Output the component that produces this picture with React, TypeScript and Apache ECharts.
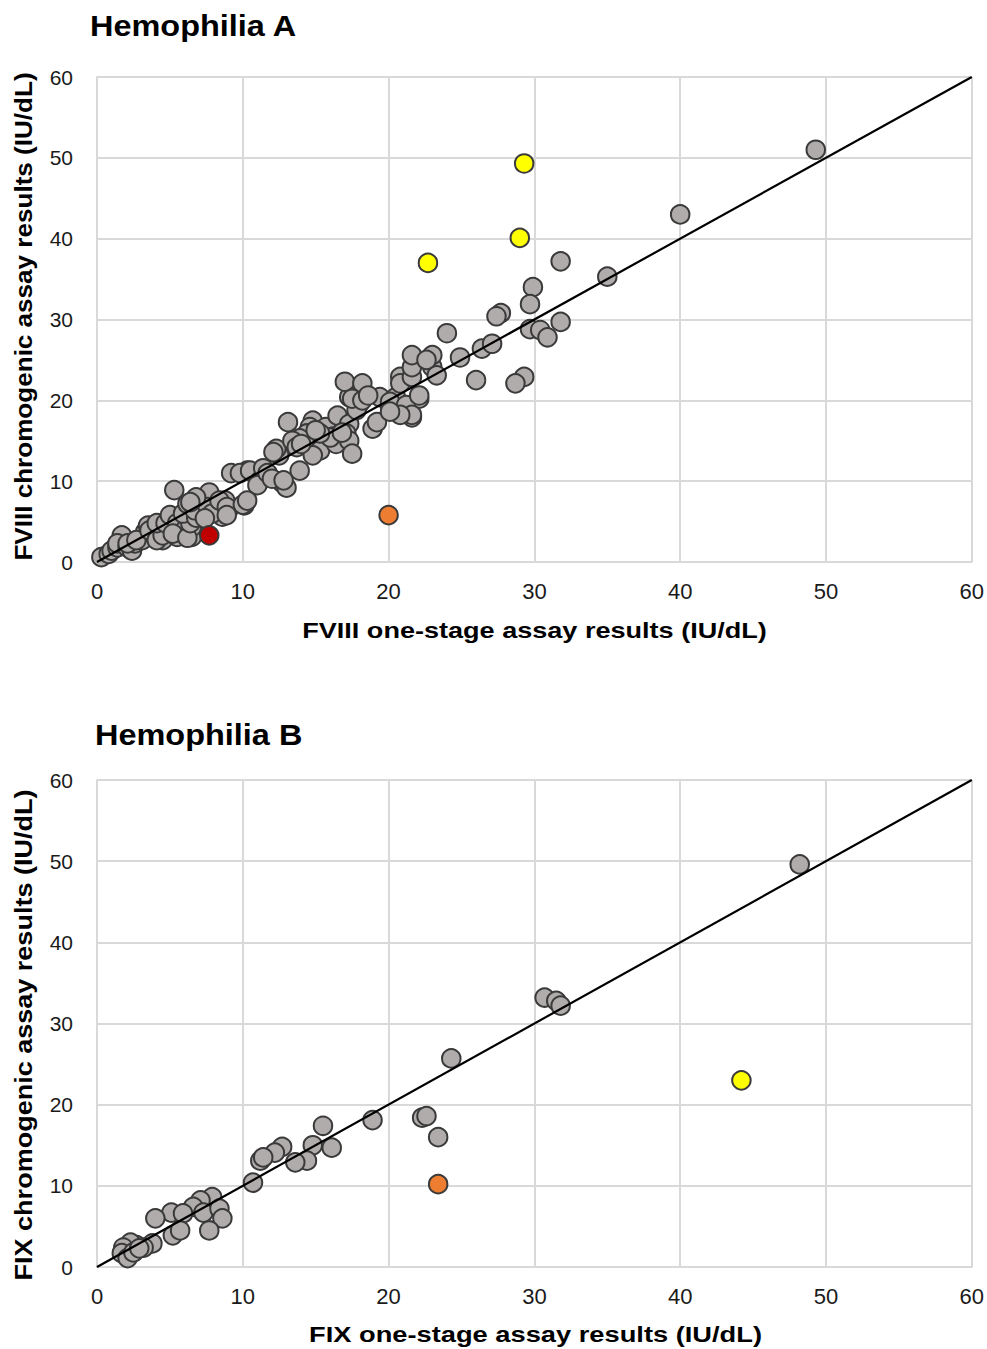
import React, { useEffect, useRef } from "react";
import * as echarts from "echarts";

// Hemophilia A: [one-stage, chromogenic] (IU/dL)
const haGray: number[][] = [
  [0.3, 0.6], [0.8, 1.0], [1.0, 1.4], [1.4, 1.8], [1.7, 3.3], [1.4, 2.3], [2.1, 1.8], [2.4, 1.4],
  [2.6, 2.3], [2.1, 2.3], [3.1, 2.7], [3.3, 3.7], [3.5, 4.5], [4.0, 3.3], [4.5, 2.7], [2.7, 2.7],
  [3.6, 3.9], [4.1, 2.7], [4.5, 3.3], [4.1, 4.8], [4.7, 4.8], [5.0, 5.8], [5.5, 4.8], [6.0, 3.9],
  [6.5, 3.1], [5.5, 3.1], [6.7, 5.2], [6.5, 4.3], [5.2, 3.5], [6.2, 3.0], [6.4, 4.8], [5.9, 6.0],
  [6.8, 5.5], [6.2, 7.2], [6.7, 6.4], [5.3, 8.9], [7.7, 8.6], [9.2, 11.0], [10.3, 11.3], [8.8, 7.6],
  [9.0, 6.4], [8.6, 5.6], [10.1, 7.0], [7.6, 6.8], [7.9, 6.0], [7.4, 5.4], [6.8, 8.0], [6.4, 7.4],
  [8.4, 7.6], [8.9, 6.8], [8.9, 5.8], [10.0, 7.1],
  [9.8, 11.0], [10.5, 11.3], [11.2, 10.1], [11.8, 10.5], [12.7, 9.8], [13.0, 9.2], [11.0, 9.5],
  [11.4, 11.6], [11.7, 11.0], [10.3, 7.6], [12.0, 10.3], [12.3, 13.8], [12.5, 13.2], [12.3, 14.0],
  [13.9, 11.3], [13.1, 17.3], [14.8, 17.5], [14.6, 16.7], [14.4, 15.9], [13.9, 15.3], [13.4, 15.0],
  [13.7, 14.2], [14.8, 14.6], [15.3, 13.8], [14.8, 13.2], [15.7, 16.7], [16.2, 15.5], [16.4, 14.6],
  [16.0, 15.4], [15.3, 15.9], [16.5, 18.1], [17.3, 17.1], [17.1, 15.9], [17.3, 15.0], [17.5, 13.4],
  [17.3, 20.4], [18.0, 19.6], [17.8, 18.8], [18.9, 16.5], [17.0, 22.3], [18.2, 22.1], [17.5, 20.2],
  [18.2, 20.0], [19.4, 20.4], [20.1, 19.2], [20.8, 18.3], [21.4, 18.8], [21.6, 17.9], [20.5, 20.4],
  [19.2, 17.3], [20.1, 19.8], [22.1, 20.2], [21.2, 19.4], [21.6, 18.2], [20.8, 18.2], [20.1, 18.6],
  [20.8, 22.9], [20.8, 22.1], [21.6, 22.9], [21.6, 24.1], [23.0, 24.1], [23.3, 23.1], [21.6, 25.6],
  [23.0, 25.6], [22.6, 25.0], [24.0, 28.3], [24.9, 25.3], [26.4, 26.4], [26.0, 22.5], [27.1, 27.0],
  [27.7, 30.8], [27.4, 30.4], [29.3, 22.9], [28.7, 22.1], [29.7, 28.8], [30.4, 28.7], [30.9, 27.8],
  [29.9, 34.0], [29.7, 31.9], [31.8, 29.7], [31.8, 37.2], [35.0, 35.3], [40.0, 43.0], [49.3, 51.0],
  [22.1, 20.6], [12.8, 10.1], [12.1, 13.6], [14.0, 14.6], [15.0, 16.3], [16.8, 16.0], [18.6, 20.6],
];
const haYellow: number[][] = [[29.3, 49.3], [29.0, 40.1], [22.7, 37.0]];
const haOrange: number[][] = [[20.0, 5.8]];
const haRed: number[][] = [[7.7, 3.3]];

// Hemophilia B
const hbGray: number[][] = [
  [48.2, 49.6], [30.7, 33.2], [31.5, 32.8], [31.8, 32.2], [24.3, 25.7], [22.3, 18.4], [22.6, 18.6],
  [23.4, 16.0], [18.9, 18.1], [15.5, 17.4], [16.1, 14.7], [14.8, 15.0], [14.4, 13.1], [13.6, 12.9],
  [12.7, 14.8], [12.2, 14.1], [11.2, 13.1], [11.4, 13.5], [10.7, 10.4], [7.9, 8.6], [7.1, 8.2],
  [6.6, 7.4], [7.3, 6.7], [8.4, 7.2], [8.6, 6.0], [7.7, 4.5], [5.1, 6.7], [4.0, 6.0], [5.9, 6.6],
  [5.2, 3.9], [5.7, 4.5], [3.8, 2.9], [3.2, 2.4], [2.7, 2.7], [2.3, 3.0], [1.8, 2.4], [1.7, 1.7],
  [2.1, 1.1], [2.5, 1.8], [2.9, 2.3],
];
const hbYellow: number[][] = [[44.2, 23.0]];
const hbOrange: number[][] = [[23.4, 10.2]];

const identityLine: number[][] = [[0, 0], [60, 60]];

const titles = ["Hemophilia A", "Hemophilia B"];
const xNames = ["FVIII one-stage assay results (IU/dL)", "FIX one-stage assay results (IU/dL)"];
const yNames = ["FVIII chromogenic assay results (IU/dL)", "FIX chromogenic assay results (IU/dL)"];

const FONT = "'Liberation Sans', Arial, sans-serif";
const GRID_COLOR = "#d9d9d9";

export default function App() {
  const ref = useRef<HTMLDivElement>(null);
  useEffect(() => {
    if (!ref.current) return;
    const chart = echarts.init(ref.current, undefined, { renderer: "svg" });

    const axisCommon = {
      type: "value" as const,
      min: 0,
      max: 60,
      interval: 10,
      axisLine: { show: true, lineStyle: { color: GRID_COLOR, width: 2 } },
      axisTick: { show: false },
      splitLine: { show: true, lineStyle: { color: GRID_COLOR, width: 2 } },
    };
    const xAxisOf = (gi: number) => ({
      ...axisCommon,
      gridIndex: gi,
      axisLabel: { color: "#1a1a1a", fontSize: 22, fontFamily: FONT, margin: 18 },
    });
    const yAxisOf = (gi: number) => ({
      ...axisCommon,
      gridIndex: gi,
      axisLabel: { color: "#1a1a1a", fontSize: 21, fontFamily: FONT, margin: 24 },
    });

    const markerStyle = (color: string) => ({
      color,
      borderColor: "#3a3a3a",
      borderWidth: 2,
      opacity: 1,
    });
    const scatter = (data: number[][], color: string, gi: number) => ({
      type: "scatter" as const,
      xAxisIndex: gi,
      yAxisIndex: gi,
      data,
      symbol: "circle",
      symbolSize: 18.5,
      itemStyle: markerStyle(color),
      z: 2,
      emphasis: { disabled: true },
    });
    const line = (gi: number) => ({
      type: "line" as const,
      xAxisIndex: gi,
      yAxisIndex: gi,
      data: identityLine,
      symbol: "none",
      lineStyle: { color: "#000", width: 2.2 },
      z: 5,
      silent: true,
    });

    const text = (
      str: string,
      x: number,
      y: number,
      size: number,
      align: string,
      scaleX: number,
      rotation = 0
    ) => ({
      type: "text" as const,
      x,
      y,
      rotation,
      scaleX,
      scaleY: 1,
      silent: true,
      style: {
        text: str,
        fill: "#000",
        fontSize: size,
        fontWeight: "bold",
        fontFamily: FONT,
        align,
        verticalAlign: "middle",
      },
    });

    chart.setOption({
      animation: false,
      backgroundColor: "#fff",
      grid: [
        { left: 97, top: 77, width: 875, height: 485, containLabel: false },
        { left: 97, top: 780, width: 875, height: 487, containLabel: false },
      ],
      xAxis: [xAxisOf(0), xAxisOf(1)],
      yAxis: [yAxisOf(0), yAxisOf(1)],
      series: [
        scatter(haGray, "#b0acab", 0),
        scatter(haYellow, "#ffff00", 0),
        scatter(haOrange, "#ed7d31", 0),
        scatter(haRed, "#c00000", 0),
        line(0),
        scatter(hbGray, "#b0acab", 1),
        scatter(hbYellow, "#ffff00", 1),
        scatter(hbOrange, "#ed7d31", 1),
        line(1),
      ],
      graphic: [
        text(titles[0], 90, 26, 29, "left", 1.12),
        text(titles[1], 95, 735, 29, "left", 1.12),
        text(xNames[0], 534.5, 630, 22, "center", 1.23),
        text(xNames[1], 535.5, 1334, 22, "center", 1.24),
        text(yNames[0], 23.5, 316.5, 23.5, "center", 1.11, Math.PI / 2),
        text(yNames[1], 23.5, 1035, 23.5, "center", 1.15, Math.PI / 2),
      ],
    });
    return () => chart.dispose();
  }, []);

  return (
    <div
      ref={ref}
      style={{ position: "absolute", left: 0, top: 0, width: 987, height: 1349, background: "#fff" }}
    />
  );
}
